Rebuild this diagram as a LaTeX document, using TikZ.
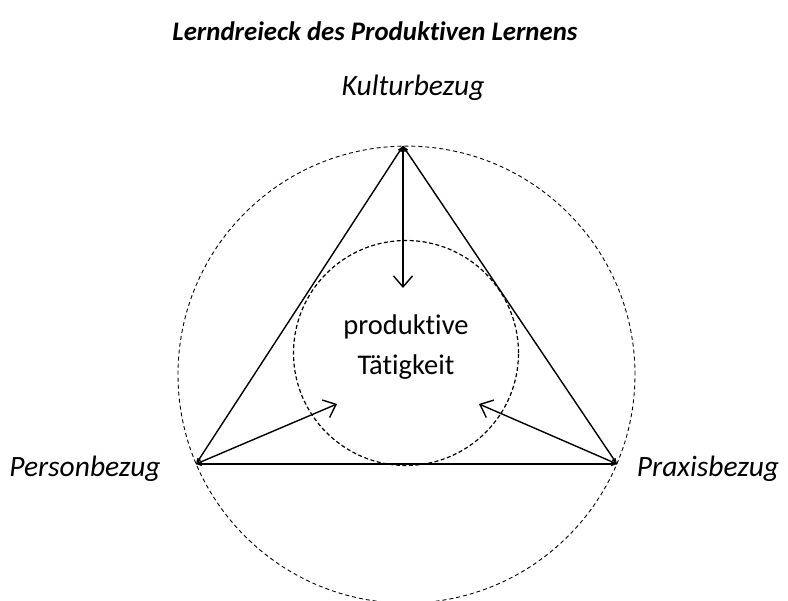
\documentclass[tikz,border=0pt]{standalone}
\usepackage{fontspec}
\setmainfont{Carlito}[Ligatures=NoCommon]
\usetikzlibrary{arrows.meta}
\begin{document}
\begin{tikzpicture}[x=1pt,y=-1pt,
  side/.style={line width=1.4pt,{Straight Barb[length=4pt,width=3pt]}-{Straight Barb[length=4pt,width=3pt]}},
  pointer/.style={line width=1.4pt,-{Straight Barb[length=11pt,width=19pt,line width=1.4pt]}},
  lbl/.style={font=\itshape\fontsize{29.5}{34}\selectfont,inner sep=0pt},
  ctext/.style={font=\fontsize{28.5}{40}\selectfont,align=center,inner sep=0pt}]
\useasboundingbox (0,0) rectangle (788,601);
\coordinate (K) at (403,146);
\coordinate (P) at (196,464);
\coordinate (R) at (617,464);
\node[font=\bfseries\itshape\fontsize{26.8}{30}\selectfont,inner sep=0pt] (title) at (375,31) {Lerndreieck des Produktiven Lernens};
\node[lbl] (kl) at (413,88) {Kulturbezug};
\node[lbl] (pl) at (85,469) {Personbezug};
\node[lbl] (rl) at (708,469) {Praxisbezug};
\node[draw,circle,dashed,line width=0.9pt,dash pattern=on 4pt off 3pt,minimum size=457pt,inner sep=0pt] (outer) at (406.5,374.6) {};
\node[draw,circle,dashed,line width=1.2pt,dash pattern=on 4pt off 2.5pt,minimum size=225pt,inner sep=0pt] (inner) at (406,353) {};
\node[ctext] (ct) at (406,347) {produktive\\Tätigkeit};
\draw[side] (K) -- (P);
\draw[side] (K) -- (R);
\draw[side] (P) -- (R);
\coordinate (a1) at (403,288);
\coordinate (a2) at (337,404);
\coordinate (a3) at (479,404);
\draw[pointer] (K) -- (a1);
\draw[pointer] (P) -- (a2);
\draw[pointer] (R) -- (a3);
\end{tikzpicture}
\end{document}
